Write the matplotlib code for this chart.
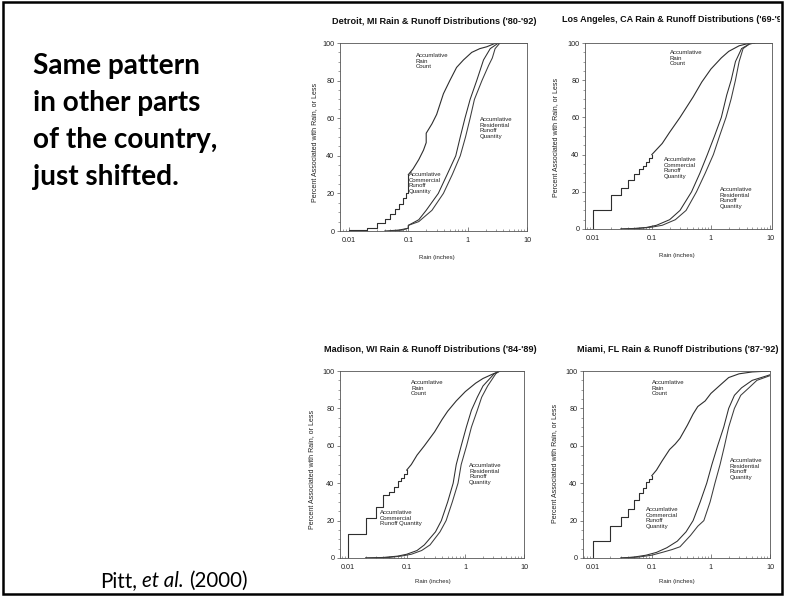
"""
Slide: rain and runoff distributions for four US cities (after Pitt et al., 2000).
Four log-x cumulative plots on the right, a short bold note on the left.
"""

import matplotlib
matplotlib.use("Agg")
import matplotlib.pyplot as plt
import matplotlib.transforms as mtransforms
from matplotlib.patches import Rectangle
from matplotlib.ticker import FixedLocator, FixedFormatter, LogLocator, MultipleLocator, NullFormatter

W, H = 791, 597

# ── Data ──────────────────────────────────────────────────────────────────────

TICK_X = [0.01, 0.1, 1, 10]
TICK_X_LABELS = ["0.01", "0.1", "1", "10"]
TICK_Y = [0, 20, 40, 60, 80, 100]

# Detroit, MI
DET_STEP_X = [0.01, 0.01, 0.02, 0.03, 0.04, 0.05, 0.06, 0.07, 0.08, 0.09, 0.10]
DET_STEP_Y = [0, 0.5, 1.8, 4.3, 6.6, 9.2, 11.6, 14.2, 17.3, 20.0, 30.0]
DET_RAIN_X = [0.10, 0.12, 0.15, 0.18, 0.20, 0.20, 0.25, 0.30, 0.39, 0.50, 0.65, 0.85, 1.17, 1.6, 2.1, 3.0, 10]
DET_RAIN_Y = [30, 33, 38, 43, 47, 52, 57, 62, 73, 80, 87, 91, 95, 97, 98, 100, 100]
DET_COM_X = [0.04, 0.07, 0.10, 0.10, 0.15, 0.20, 0.32, 0.45, 0.63, 0.75, 0.90, 1.10, 1.42, 1.85, 2.4, 3.3]
DET_COM_Y = [0, 0.5, 1.5, 3, 6, 11, 20, 30, 40, 50, 60, 70, 80, 91, 97, 100]
DET_RES_X = [0.05, 0.08, 0.10, 0.10, 0.15, 0.25, 0.39, 0.55, 0.75, 0.92, 1.10, 1.30, 1.74, 2.25, 2.6, 2.9, 3.5]
DET_RES_Y = [0, 0.5, 1.5, 3, 5, 11, 20, 30, 40, 50, 60, 70, 80, 88, 92, 97, 100]

# Los Angeles, CA
LA_STEP_X = [0.01, 0.01, 0.02, 0.03, 0.04, 0.05, 0.06, 0.07, 0.08, 0.09, 0.10]
LA_STEP_Y = [0, 10, 18.5, 22, 26.5, 29.5, 32, 34, 36, 38, 40]
LA_RAIN_X = [0.10, 0.15, 0.20, 0.30, 0.50, 0.70, 1.0, 1.5, 2.0, 3.0, 4.0, 5.0, 10.8]
LA_RAIN_Y = [40, 46, 52, 60, 71, 79, 86, 92, 95.5, 98.5, 99.5, 100, 100]
LA_COM_X = [0.03, 0.05, 0.08, 0.12, 0.20, 0.30, 0.47, 0.65, 0.87, 1.15, 1.5, 1.85, 2.2, 2.6, 3.3, 4.5, 5.5]
LA_COM_Y = [0, 0.3, 0.8, 2, 5, 10, 20, 30, 40, 50, 60, 72, 80, 90, 97, 99.5, 100]
LA_RES_X = [0.03, 0.06, 0.10, 0.15, 0.25, 0.38, 0.57, 0.80, 1.10, 1.4, 1.8, 2.2, 2.6, 3.0, 3.5, 4.5, 5.5]
LA_RES_Y = [0, 0.3, 1, 2, 5, 10, 20, 30, 40, 50, 60, 70, 80, 90, 97, 99.5, 100]

# Madison, WI
MAD_STEP_X = [0.01, 0.01, 0.02, 0.03, 0.04, 0.05, 0.06, 0.07, 0.08, 0.09, 0.10]
MAD_STEP_Y = [0, 13, 21.5, 27.5, 33.5, 35.5, 38, 41, 43, 45, 47]
MAD_RAIN_X = [0.10, 0.12, 0.15, 0.20, 0.30, 0.40, 0.50, 0.70, 1.0, 1.5, 2.0, 3.0, 4.0, 10]
MAD_RAIN_Y = [47, 50, 55, 60, 67.5, 74, 78.5, 84, 89, 93.5, 96, 98.5, 100, 100]
MAD_COM_X = [0.02, 0.04, 0.07, 0.10, 0.15, 0.20, 0.31, 0.39, 0.50, 0.62, 0.70, 0.85, 1.04, 1.27, 1.6, 2.0, 3.1, 3.8]
MAD_COM_Y = [0, 0.3, 1, 2, 4, 7, 14, 20, 30, 40, 50, 60, 70, 79, 86, 92, 98.5, 100]
MAD_RES_X = [0.02, 0.05, 0.08, 0.12, 0.18, 0.25, 0.37, 0.47, 0.60, 0.75, 0.85, 1.05, 1.27, 1.6, 1.9, 2.4, 3.3, 3.8]
MAD_RES_Y = [0, 0.3, 1, 2, 4, 7, 14, 20, 30, 40, 50, 60, 70, 79, 86, 92, 98.5, 100]

# Miami, FL
MIA_STEP_X = [0.01, 0.01, 0.02, 0.03, 0.04, 0.05, 0.06, 0.07, 0.08, 0.09, 0.10]
MIA_STEP_Y = [0, 9, 17, 22, 26, 31, 35, 37.5, 40.5, 42, 44]
MIA_RAIN_X = [0.10, 0.12, 0.15, 0.20, 0.25, 0.30, 0.40, 0.50, 0.60, 0.80, 1.0, 1.5, 2.0, 3.0, 5.0, 10]
MIA_RAIN_Y = [44, 47, 52, 58, 61, 64, 71, 77, 81, 84, 88, 93, 96.5, 98.5, 99.5, 100]
MIA_COM_X = [0.03, 0.05, 0.08, 0.12, 0.18, 0.27, 0.38, 0.50, 0.66, 0.85, 1.04, 1.3, 1.65, 2.0, 2.5, 3.3, 5.0, 9.0, 10]
MIA_COM_Y = [0, 0.5, 1.5, 3, 5.5, 9, 14, 20, 30, 40, 50, 60, 70, 80, 87, 91, 95, 97.5, 98]
MIA_RES_X = [0.03, 0.06, 0.10, 0.15, 0.22, 0.30, 0.45, 0.60, 0.76, 0.97, 1.17, 1.43, 1.7, 2.0, 2.5, 3.2, 4.4, 6.0, 9.0, 10]
MIA_RES_Y = [0, 0.5, 1.5, 3, 4.5, 6, 12, 17, 20, 30, 40, 50, 60, 70, 80, 87, 91, 95, 97, 97.5]

TITLES = [
    "Detroit, MI Rain & Runoff Distributions ('80-'92)",
    "Los Angeles, CA Rain & Runoff Distributions ('69-'92)",
    "Madison, WI Rain & Runoff Distributions ('84-'89)",
    "Miami, FL Rain & Runoff Distributions ('87-'92)",
]
LBL_RAIN = "Accumlative\nRain\nCount"
LBL_RES = "Accumlative\nResidential\nRunoff\nQuantity"
LBL_COM = "Accumlative\nCommercial\nRunoff\nQuantity"
LBL_COM_MAD = "Accumlative\nCommercial\nRunoff Quantity"
YLABEL = "Percent Associated with Rain, or Less"
XLABEL = "Rain (inches)"

NOTE_LINES = ["Same pattern", "in other parts", "of the country,", "just shifted."]

# ── Helpers ───────────────────────────────────────────────────────────────────

SANS = "Liberation Sans"
INK = "#2e2e2e"


def fx(px):
    return px / W


def fy(py):
    return 1 - py / H


fig = plt.figure(figsize=(W / 100, H / 100), dpi=100)


def make_axes(left, top, right, bottom, xlim):
    ax = fig.add_axes([fx(left), fy(bottom), (right - left) / W, (bottom - top) / H])
    ax.set_xscale("log")
    ax.set_xlim(*xlim)
    ax.set_ylim(0, 100)
    ax.xaxis.set_major_locator(FixedLocator(TICK_X))
    ax.xaxis.set_major_formatter(FixedFormatter(TICK_X_LABELS))
    ax.xaxis.set_minor_locator(LogLocator(base=10, subs=range(2, 10)))
    ax.xaxis.set_minor_formatter(NullFormatter())
    ax.yaxis.set_major_locator(FixedLocator(TICK_Y))
    ax.yaxis.set_minor_locator(MultipleLocator(5))
    for s in ax.spines.values():
        s.set_linewidth(0.6)
        s.set_color("#555555")
    ax.tick_params(axis="x", which="major", direction="in", length=3, width=0.5,
                   pad=4, labelsize=5.2, colors="#555555", labelcolor="#222222")
    ax.tick_params(axis="x", which="minor", direction="in", length=1.8, width=0.4, colors="#555555")
    ax.tick_params(axis="y", which="major", direction="out", length=2.5, width=0.5,
                   pad=1.5, labelsize=5.2, colors="#555555", labelcolor="#222222")
    ax.tick_params(axis="y", which="minor", direction="out", length=1.2, width=0.4, colors="#555555")
    for lab in ax.get_xticklabels() + ax.get_yticklabels():
        lab.set_family(SANS)
    return ax


def draw_city(ax, step_x, step_y, rain_x, rain_y, com_x, com_y, res_x, res_y):
    ax.plot(step_x, step_y, drawstyle="steps-post", color=INK, lw=0.8)
    ax.plot(rain_x, rain_y, color=INK, lw=0.8)
    ax.plot(com_x, com_y, color=INK, lw=0.75)
    ax.plot(res_x, res_y, color="#3c3c3c", lw=0.75)


def label(px, py, text):
    fig.text(fx(px), fy(py), text, ha="left", va="top", fontsize=4.3,
             family=SANS, color="#222222", linespacing=1.15)


# ── Panels ────────────────────────────────────────────────────────────────────

ax_det = make_axes(340, 43, 527, 231, (0.00705, 10))
draw_city(ax_det, DET_STEP_X, DET_STEP_Y, DET_RAIN_X, DET_RAIN_Y,
          DET_COM_X, DET_COM_Y, DET_RES_X, DET_RES_Y)

ax_la = make_axes(585, 43, 772, 229, (0.0074, 10.8))
draw_city(ax_la, LA_STEP_X, LA_STEP_Y, LA_RAIN_X, LA_RAIN_Y,
          LA_COM_X, LA_COM_Y, LA_RES_X, LA_RES_Y)

ax_mad = make_axes(340, 371, 524, 558, (0.0073, 10))
draw_city(ax_mad, MAD_STEP_X, MAD_STEP_Y, MAD_RAIN_X, MAD_RAIN_Y,
          MAD_COM_X, MAD_COM_Y, MAD_RES_X, MAD_RES_Y)

ax_mia = make_axes(583, 371, 770, 558, (0.00686, 10))
draw_city(ax_mia, MIA_STEP_X, MIA_STEP_Y, MIA_RAIN_X, MIA_RAIN_Y,
          MIA_COM_X, MIA_COM_Y, MIA_RES_X, MIA_RES_Y)

# titles (the LA title runs past the slide border and is clipped there, as in the scan)
title_kw = dict(fontsize=6.6, fontweight="bold", family=SANS, color="#111111", va="center")
fig.text(fx(434), fy(22), TITLES[0], ha="center", **title_kw)
t_la = fig.text(fx(562), fy(20), TITLES[1], ha="left", fontsize=6.5,
                fontweight="bold", family=SANS, color="#111111", va="center")
t_la.set_clip_box(mtransforms.TransformedBbox(
    mtransforms.Bbox.from_extents(0, 0, fx(780), 1), fig.transFigure))
t_la.set_clip_on(True)
fig.text(fx(430), fy(349), TITLES[2], ha="center", **title_kw)
fig.text(fx(678), fy(349), TITLES[3], ha="center", **title_kw)

# axis labels
for px, py in [(315, 142), (556, 137), (312, 469), (555, 463)]:
    fig.text(fx(px), fy(py), YLABEL, rotation=90, ha="center", va="center",
             fontsize=5.0, family=SANS, color="#222222")
for px, py in [(437, 257), (677, 256), (433, 582), (677, 582)]:
    fig.text(fx(px), fy(py), XLABEL, ha="center", va="center",
             fontsize=4.3, family=SANS, color="#222222")

# curve annotations
label(416, 53, LBL_RAIN)
label(480, 117, LBL_RES)
label(409, 172, LBL_COM)

label(670, 50, LBL_RAIN)
label(664, 157, LBL_COM)
label(720, 187, LBL_RES)

label(411, 380, LBL_RAIN)
label(380, 510, LBL_COM_MAD)
label(469, 463, LBL_RES)

label(652, 380, LBL_RAIN)
label(730, 458, LBL_RES)
label(646, 507, LBL_COM)

# ── Slide text and frame ──────────────────────────────────────────────────────

for i, line in enumerate(NOTE_LINES):
    fig.text(fx(33), fy(74 + 37 * i), line, ha="left", va="baseline",
             fontsize=20.2, fontweight="bold", family="Lato", color="black")

renderer = fig.canvas.get_renderer()
cite_kw = dict(fontsize=14.8, family="Lato", color="black", va="baseline")
probe_a = fig.text(0, 0, "aa", **cite_kw)
probe_b = fig.text(0, 0, "a a", **cite_kw)
space_w = probe_b.get_window_extent(renderer).width - probe_a.get_window_extent(renderer).width
probe_a.remove()
probe_b.remove()

x_cur = 100
for piece, style in [("Pitt,", "normal"), ("et al.", "italic"), ("(2000)", "normal")]:
    t = fig.text(fx(x_cur), fy(587), piece, style=style, ha="left", **cite_kw)
    x_cur += t.get_window_extent(renderer).width + space_w

fig.add_artist(Rectangle((fx(2.5), fy(594)), fx(781.5) - fx(2.5), fy(1.5) - fy(594),
                         transform=fig.transFigure, fill=False, lw=1.8,
                         edgecolor="black", zorder=10))

fig.savefig("out.png", dpi=100, facecolor="white")
